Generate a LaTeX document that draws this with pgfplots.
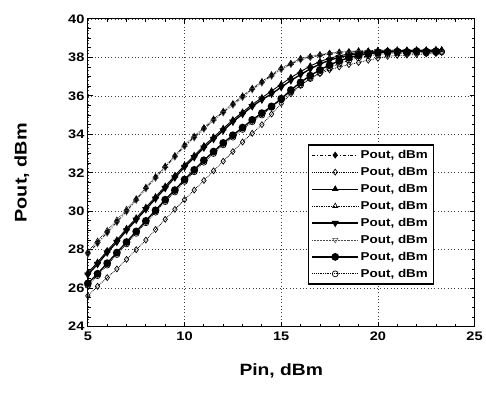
\documentclass[border=0pt]{standalone}
\usepackage{fontspec}
\setmainfont{Liberation Sans}[FakeStretch=1.18]
\usepackage{pgfplots}
\pgfplotsset{compat=1.18}
\begin{document}
\begin{tikzpicture}
\begin{axis}[name=ax, scale only axis, width=389.5bp, height=310bp,
  xmin=5, xmax=25, ymin=24, ymax=40,
  xtick={5,10,15,20,25}, ytick={24,26,28,30,32,34,36,38,40},
  minor x tick num=4, minor y tick num=3,
  tick align=inside, major tick length=5bp, minor tick length=3bp,
  tick style={black, line width=0.8pt},
  axis line style={line width=1.2pt},
  grid=major, grid style={dash pattern=on 0.8pt off 2.6pt, black!75, line width=0.6pt},
  /pgf/number format/assume math mode=true,
  ticklabel style={font=\bfseries\fontsize{12.5}{12.5}\selectfont},
  xticklabel style={yshift=-2bp},
  xlabel={Pin, dBm}, ylabel={Pout, dBm},
  xlabel style={at={(axis description cs:0.5,-0.145)}, anchor=center, font=\bfseries\fontsize{16.5}{16.5}\selectfont},
  ylabel style={at={(axis description cs:-0.171,0.5)}, anchor=center, font=\bfseries\fontsize{17}{17}\selectfont},
  legend style={at={(0.895,0.593)}, anchor=north east, draw=black, line width=1.4pt,
    font=\bfseries\fontsize{11.5}{12}\selectfont, row sep=3.3bp, inner sep=3.5bp},
  legend cell align=left,
  legend image code/.code={\draw[mark repeat=2,mark phase=2,#1] plot coordinates {(0bp,0bp) (23bp,0bp) (46bp,0bp)};},
]
\addplot[black, line width=0.7pt, dash dot, mark=diamond*, mark size=3pt, mark options={solid}] coordinates {(5,27.8)(5.5,28.35)(6,28.9)(6.5,29.45)(7,30.0)(7.5,30.6)(8,31.2)(8.5,31.75)(9,32.3)(9.5,32.85)(10,33.4)(10.5,33.85)(11,34.3)(11.5,34.75)(12,35.15)(12.5,35.55)(13,35.95)(13.5,36.35)(14,36.7)(14.5,37.05)(15,37.4)(15.5,37.65)(16,37.9)(16.5,38.0)(17,38.1)(17.5,38.2)(18,38.25)(18.5,38.28)(19,38.3)(19.5,38.32)(20,38.3)(20.5,38.33)(21,38.3)(21.5,38.35)(22,38.32)(22.5,38.36)(23,38.35)};
\addlegendentry{Pout, dBm}
\addplot[black, line width=0.8pt, densely dotted, mark=diamond, mark size=3pt, mark options={solid, fill=white, line width=0.7pt}] coordinates {(5,25.6)(5.5,26.1)(6,26.55)(6.5,27.0)(7,27.5)(7.5,28.0)(8,28.5)(8.5,29.05)(9,29.58)(9.5,30.1)(10,30.6)(10.5,31.1)(11,31.6)(11.5,32.1)(12,32.6)(12.5,33.1)(13,33.6)(13.5,34.05)(14,34.5)(14.5,35.05)(15,35.6)(15.5,36.1)(16,36.55)(16.5,36.9)(17,37.15)(17.5,37.35)(18,37.5)(18.5,37.62)(19,37.73)(19.5,37.85)(20,37.95)(20.5,38.05)(21,38.1)(21.5,38.12)(22,38.15)(22.5,38.18)(23,38.2)(23.3,38.25)};
\addlegendentry{Pout, dBm}
\addplot[black, line width=0.9pt, solid, mark=triangle*, mark size=3pt] coordinates {(5,26.8)(5.5,27.35)(6,27.95)(6.5,28.5)(7,29.1)(7.5,29.65)(8,30.2)(8.5,30.75)(9,31.3)(9.5,31.85)(10,32.4)(10.5,32.9)(11,33.4)(11.5,33.85)(12,34.3)(12.5,34.75)(13,35.15)(13.5,35.55)(14,35.9)(14.5,36.25)(15,36.6)(15.5,36.95)(16,37.25)(16.5,37.55)(17,37.78)(17.5,37.95)(18,38.08)(18.5,38.18)(19,38.25)(19.5,38.3)(20,38.33)(20.5,38.35)(21,38.33)(21.5,38.37)(22,38.35)(22.5,38.38)(23,38.36)(23.3,38.38)};
\addlegendentry{Pout, dBm}
\addplot[black, line width=0.7pt, densely dotted, mark=triangle, mark size=3pt, mark options={solid, fill=white, line width=0.6pt}] coordinates {(5,27.9)(5.5,28.45)(6,29.0)(6.5,29.55)(7,30.1)(7.5,30.65)(8,31.25)(8.5,31.8)(9,32.35)(9.5,32.9)(10,33.45)(10.5,33.9)(11,34.35)(11.5,34.8)(12,35.2)(12.5,35.6)(13,36.0)(13.5,36.4)(14,36.75)(14.5,37.1)(15,37.45)(15.5,37.7)(16,37.95)(16.5,38.05)(17,38.15)(17.5,38.22)(18,38.28)(18.5,38.3)(19,38.35)(19.5,38.33)(20,38.38)(20.5,38.35)(21,38.4)(21.5,38.37)(22,38.4)(22.5,38.38)(23,38.42)(23.3,38.4)};
\addlegendentry{Pout, dBm}
\addplot[black, line width=1.4pt, solid, mark=triangle*, mark size=3pt, mark options={rotate=180}] coordinates {(5,26.7)(5.5,27.25)(6,27.85)(6.5,28.4)(7,29.0)(7.5,29.55)(8,30.1)(8.5,30.65)(9,31.2)(9.5,31.75)(10,32.3)(10.5,32.8)(11,33.3)(11.5,33.75)(12,34.2)(12.5,34.65)(13,35.05)(13.5,35.45)(14,35.8)(14.5,36.1)(15,36.45)(15.5,36.8)(16,37.1)(16.5,37.4)(17,37.65)(17.5,37.85)(18,38.0)(18.5,38.1)(19,38.2)(19.5,38.25)(20,38.3)(20.5,38.28)(21,38.32)(21.5,38.3)(22,38.33)(22.5,38.3)(23,38.32)};
\addlegendentry{Pout, dBm}
\addplot[black!70, line width=0.5pt, densely dotted, mark=triangle, mark size=3pt, mark options={solid, rotate=180, fill=white}] coordinates {(5,27.75)(5.5,28.3)(6,28.85)(6.5,29.4)(7,29.95)(7.5,30.55)(8,31.15)(8.5,31.7)(9,32.25)(9.5,32.8)(10,33.35)(10.5,33.8)(11,34.25)(11.5,34.7)(12,35.1)(12.5,35.5)(13,35.9)(13.5,36.3)(14,36.65)(14.5,37.0)(15,37.35)(15.5,37.62)(16,37.85)(16.5,38.0)(17,38.08)(17.5,38.15)(18,38.22)(18.5,38.25)(19,38.28)(19.5,38.3)(20,38.27)(20.5,38.3)(21,38.32)(21.5,38.3)(22,38.33)(22.5,38.3)(23,38.32)(23.3,38.3)};
\addlegendentry{Pout, dBm}
\addplot[black, line width=1.4pt, solid, mark=*, mark size=3.2pt] coordinates {(5,26.25)(5.5,26.75)(6,27.3)(6.5,27.85)(7,28.4)(7.5,28.95)(8,29.5)(8.5,30.05)(9,30.6)(9.5,31.1)(10,31.65)(10.5,32.15)(11,32.65)(11.5,33.1)(12,33.55)(12.5,33.95)(13,34.35)(13.5,34.75)(14,35.1)(14.5,35.45)(15,35.85)(15.5,36.3)(16,36.7)(16.5,37.05)(17,37.35)(17.5,37.6)(18,37.82)(18.5,37.98)(19,38.1)(19.5,38.18)(20,38.25)(20.5,38.28)(21,38.3)(21.5,38.28)(22,38.32)(22.5,38.3)(23,38.32)};
\addlegendentry{Pout, dBm}
\addplot[black, line width=0.8pt, densely dotted, mark=o, mark size=3pt, mark options={solid, fill=white, line width=0.7pt}] coordinates {(5,26.15)(5.5,26.65)(6,27.2)(6.5,27.75)(7,28.3)(7.5,28.85)(8,29.4)(8.5,29.95)(9,30.5)(9.5,31.0)(10,31.55)(10.5,32.05)(11,32.55)(11.5,33.0)(12,33.45)(12.5,33.85)(13,34.25)(13.5,34.65)(14,35.0)(14.5,35.4)(15,35.8)(15.5,36.2)(16,36.55)(16.5,36.9)(17,37.2)(17.5,37.45)(18,37.68)(18.5,37.85)(19,37.98)(19.5,38.08)(20,38.15)(20.5,38.2)(21,38.22)(21.5,38.2)(22,38.25)(22.5,38.22)(23,38.25)(23.3,38.28)};
\addlegendentry{Pout, dBm}
\end{axis}
\path (ax.south west) ++(-88.5bp,-68bp) rectangle ([shift={(8bp,19bp)}]ax.north east);
\end{tikzpicture}
\end{document}
